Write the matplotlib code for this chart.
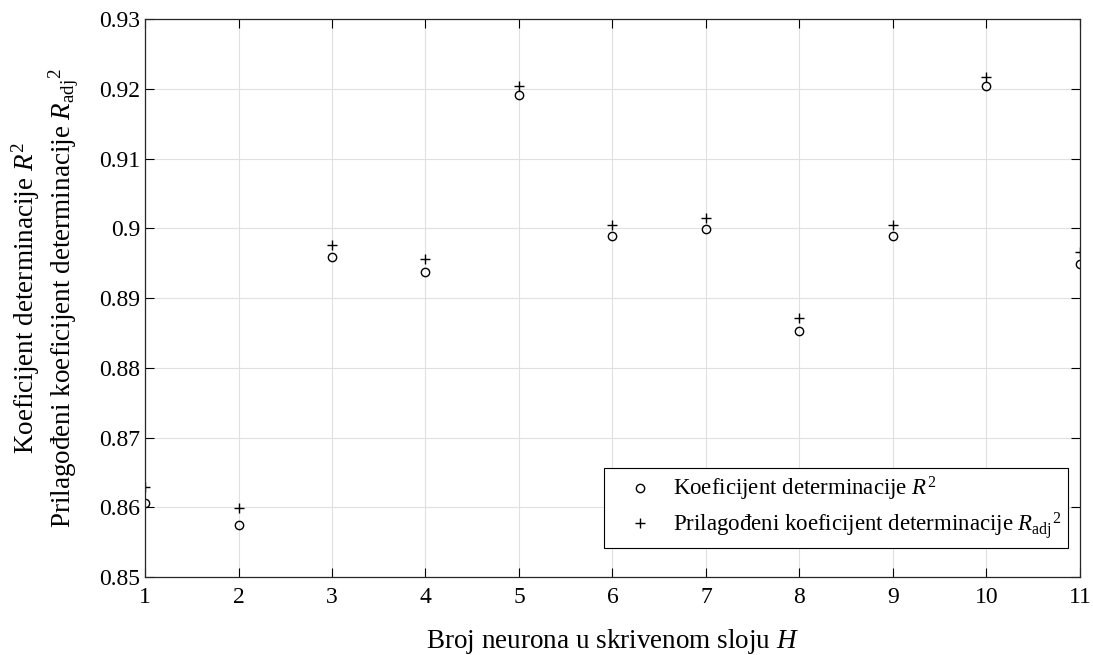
import numpy as np
from matplotlib import pyplot as plt

plt.rcParams['font.family'] = ['Liberation Serif', 'DejaVu Serif']
plt.rcParams['mathtext.fontset'] = 'custom'
plt.rcParams['mathtext.rm'] = 'Liberation Serif'
plt.rcParams['mathtext.it'] = 'Liberation Serif:italic'

# broj neurona H
h = np.arange(1, 12)
r2 = [0.8606, 0.8575, 0.8959, 0.8937, 0.9191, 0.8989, 0.8999, 0.8853, 0.8989, 0.9204, 0.8949]
r2_adj = [0.8629, 0.8599, 0.8976, 0.8956, 0.9204, 0.9005, 0.9015, 0.8871, 0.9005, 0.9217, 0.8966]

fig = plt.figure(figsize=(10.93, 6.55), dpi=100)
ax = fig.add_axes([0.1327, 0.119, 0.8553, 0.852])

ax.plot(h, r2, 'o', mfc='none', mec='black', ms=6, mew=1.0,
        label='Koeficijent determinacije $\\mathit{R}^2$')
ax.plot(h, r2_adj, '+', color='black', ms=6.5, mew=1.0,
        label='Prilagođeni koeficijent determinacije $\\mathit{R}_{\\mathrm{adj}}{}^2$')

ax.set_xlim(1, 11)
ax.set_ylim(0.85, 0.93)
ax.set_xticks(h)
ax.set_yticks(np.arange(0.85, 0.9301, 0.01))
ax.set_yticklabels(['0.85', '0.86', '0.87', '0.88', '0.89', '0.9', '0.91', '0.92', '0.93'])
ax.tick_params(direction='in', length=6.5, labelsize=17, top=True, right=True, width=0.8)
ax.tick_params(axis='x', pad=7)
ax.grid(True, color='#e0e0e0', linewidth=0.8)
ax.set_axisbelow(True)
for s in ax.spines.values():
    s.set_linewidth(0.9)
    s.set_color('#262626')

ax.set_xlabel('Broj neurona u skrivenom sloju $\\mathit{H}$', fontsize=19.5, labelpad=14)
ax.set_ylabel('Koeficijent determinacije $\\mathit{R}^2$\n'
              'Prilagođeni koeficijent determinacije $\\mathit{R}_{\\mathrm{adj}}{}^2$',
              fontsize=19.5, labelpad=13)

leg = ax.legend(loc='lower right', bbox_to_anchor=(0.987, 0.052), fontsize=16.5,
                fancybox=False, framealpha=1, edgecolor='black', borderaxespad=0,
                handletextpad=0.1, handlelength=2.6, borderpad=0.3, labelspacing=0.3)
leg.get_frame().set_linewidth(0.8)

fig.savefig('out.png', dpi=100)
